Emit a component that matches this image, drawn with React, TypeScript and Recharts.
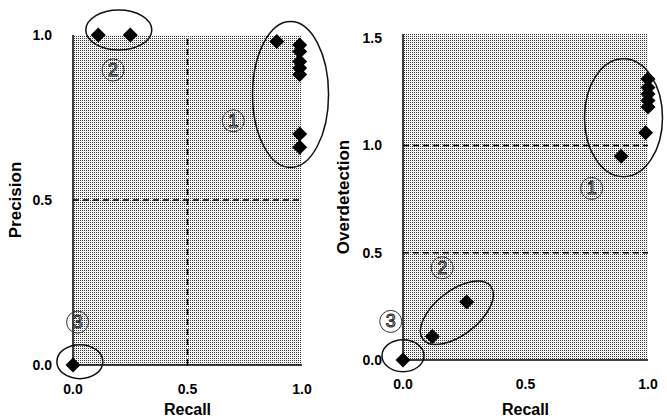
import React from "react";
import {
    ScatterChart, Scatter, XAxis, YAxis, ReferenceArea, ReferenceLine, ReferenceDot
} from "recharts";

// left panel: precision vs recall
const leftRecall = [0.0, 0.11, 0.25, 0.89, 0.99, 0.99, 0.99, 0.99, 0.99, 0.99, 0.99];
const leftPrecision = [0.0, 1.0, 1.0, 0.98, 0.97, 0.95, 0.92, 0.9, 0.88, 0.7, 0.66];

// right panel: overdetection vs recall
const rightRecall = [0.0, 0.12, 0.26, 0.89, 0.99, 1.0, 1.0, 1.0, 1.0, 1.0];
const overdetection = [0.0, 0.11, 0.27, 0.95, 1.06, 1.18, 1.21, 1.24, 1.27, 1.31];

const xTicks = [0, 0.5, 1];
const leftYTicks = [0, 0.5, 1];
const rightYTicks = [0, 0.5, 1, 1.5];

// group annotations: ellipse centre (data units) + circled label position
const leftGroups = [
    { id: "1", x: 0.95, y: 0.82, rx: 38, ry: 73, rot: 0, lx: 0.7, ly: 0.74 },
    { id: "2", x: 0.2, y: 1.015, rx: 33, ry: 20, rot: 0, lx: 0.175, ly: 0.894 },
    { id: "3", x: 0.03, y: 0.01, rx: 23, ry: 17, rot: 0, lx: 0.02, ly: 0.13 },
];
const rightGroups = [
    { id: "1", x: 0.9, y: 1.13, rx: 39, ry: 59, rot: 0, lx: 0.77, ly: 0.8 },
    { id: "2", x: 0.22, y: 0.22, rx: 43, ry: 22, rot: -38, lx: 0.16, ly: 0.43 },
    { id: "3", x: 0.0, y: 0.02, rx: 21, ry: 16, rot: 0, lx: -0.05, ly: 0.18 },
];

const font = "'Liberation Sans', Arial, sans-serif";
const tickStyle = { fontSize: 14, fontWeight: 700, fill: "#000", fontFamily: font };

const Diamond = (p: any) => {
    const s = 7.5;
    const { cx, cy } = p;
    return <polygon points={`${cx},${cy - s} ${cx + s},${cy} ${cx},${cy + s} ${cx - s},${cy}`} fill="#000" />;
};

const Ellipse = (rx: number, ry: number, rot: number) => (p: any) => (
    <ellipse cx={p.cx} cy={p.cy} rx={rx} ry={ry} fill="none" stroke="#111" strokeWidth={1.5}
        transform={rot ? `rotate(${rot} ${p.cx} ${p.cy})` : undefined} />
);

const Circled = (n: string) => (p: any) => (
    <g>
        <circle cx={p.cx} cy={p.cy} r={11} fill="none" stroke="#333" strokeWidth={1} />
        <text x={p.cx} y={p.cy + 6} textAnchor="middle" fontSize={18} fontFamily={font}
            fill="#fff" stroke="#222" strokeWidth={1}>{n}</text>
    </g>
);

const YTitle = (props: any) => {
    const { viewBox, text, dx } = props;
    const cx = viewBox.x + dx;
    const cy = viewBox.y + viewBox.height / 2;
    return (
        <text x={cx} y={cy} transform={`rotate(-90 ${cx} ${cy})`} textAnchor="middle"
            dominantBaseline="central" fontSize={17} fontWeight={700} fontFamily={font} fill="#000">
            {text}
        </text>
    );
};

function Panel(props: {
    width: number; height: number; margin: any; xs: number[]; ys: number[];
    yMax: number; yTicks: number[]; yLabel: string; yLabelDx: number; xAxisH: number;
    vLines: number[]; hLines: number[]; groups: any[]; pid: string;
}) {
    const data = props.xs.map((x, i) => ({ x, y: props.ys[i] }));
    return (
        <ScatterChart width={props.width} height={props.height} margin={props.margin}>
            <defs>
                <pattern id={props.pid} width={2} height={2} patternUnits="userSpaceOnUse">
                    <rect width={2} height={2} fill="#fff" />
                    <rect width={1} height={1} fill="#333" />
                    <rect x={1} y={1} width={1} height={1} fill="#eee" />
                </pattern>
            </defs>
            <XAxis type="number" dataKey="x" domain={[0, 1]} ticks={xTicks} tickFormatter={(v) => v.toFixed(1)}
                height={props.xAxisH} tick={tickStyle} tickLine={false} tickSize={6} tickMargin={13}
                axisLine={{ stroke: "#000", strokeWidth: 1.5 }}
                label={{ value: "Recall", position: "insideBottom", offset: 3, fontSize: 16, fontWeight: 700, fill: "#000", fontFamily: font }} />
            <YAxis type="number" dataKey="y" domain={[0, props.yMax]} ticks={props.yTicks} tickFormatter={(v) => v.toFixed(1)}
                width={73} tick={tickStyle} tickLine={false} tickSize={6} tickMargin={15}
                axisLine={{ stroke: "#000", strokeWidth: 1.5 }}
                label={<YTitle text={props.yLabel} dx={props.yLabelDx} />} />
            <ReferenceArea x1={0} x2={1} y1={0} y2={props.yMax} fill={`url(#${props.pid})`} fillOpacity={1} stroke="none" />
            {props.vLines.map((v) => (
                <ReferenceLine key={"v" + v} x={v} stroke="#000" strokeWidth={1.5} strokeDasharray="6 4" />
            ))}
            {props.hLines.map((v) => (
                <ReferenceLine key={"h" + v} y={v} stroke="#000" strokeWidth={1.5} strokeDasharray="6 4" />
            ))}
            <Scatter data={data} shape={Diamond} isAnimationActive={false} />
            {props.groups.map((g) => (
                <ReferenceDot key={"e" + g.id} x={g.x} y={g.y} r={1} ifOverflow="visible" shape={Ellipse(g.rx, g.ry, g.rot)} />
            ))}
            {props.groups.map((g) => (
                <ReferenceDot key={"l" + g.id} x={g.lx} y={g.ly} r={1} ifOverflow="visible" shape={Circled(g.id)} />
            ))}
        </ScatterChart>
    );
}

export default function App() {
    return (
        <div style={{ position: "absolute", top: 0, left: 0, width: 667, height: 418, background: "#fff", display: "flex" }}>
            <Panel width={330} height={418} margin={{ top: 35, right: 28, bottom: 0, left: 0 }}
                xs={leftRecall} ys={leftPrecision} yMax={1} yTicks={leftYTicks} yLabel="Precision" yLabelDx={15}
                xAxisH={53} vLines={[0.5]} hLines={[0.5]} groups={leftGroups} pid="dotsL" />
            <Panel width={337} height={418} margin={{ top: 34, right: 19, bottom: 0, left: 0 }}
                xs={rightRecall} ys={overdetection} yMax={1.52} yTicks={rightYTicks} yLabel="Overdetection" yLabelDx={13}
                xAxisH={58} vLines={[]} hLines={[1, 0.5]} groups={rightGroups} pid="dotsR" />
        </div>
    );
}
